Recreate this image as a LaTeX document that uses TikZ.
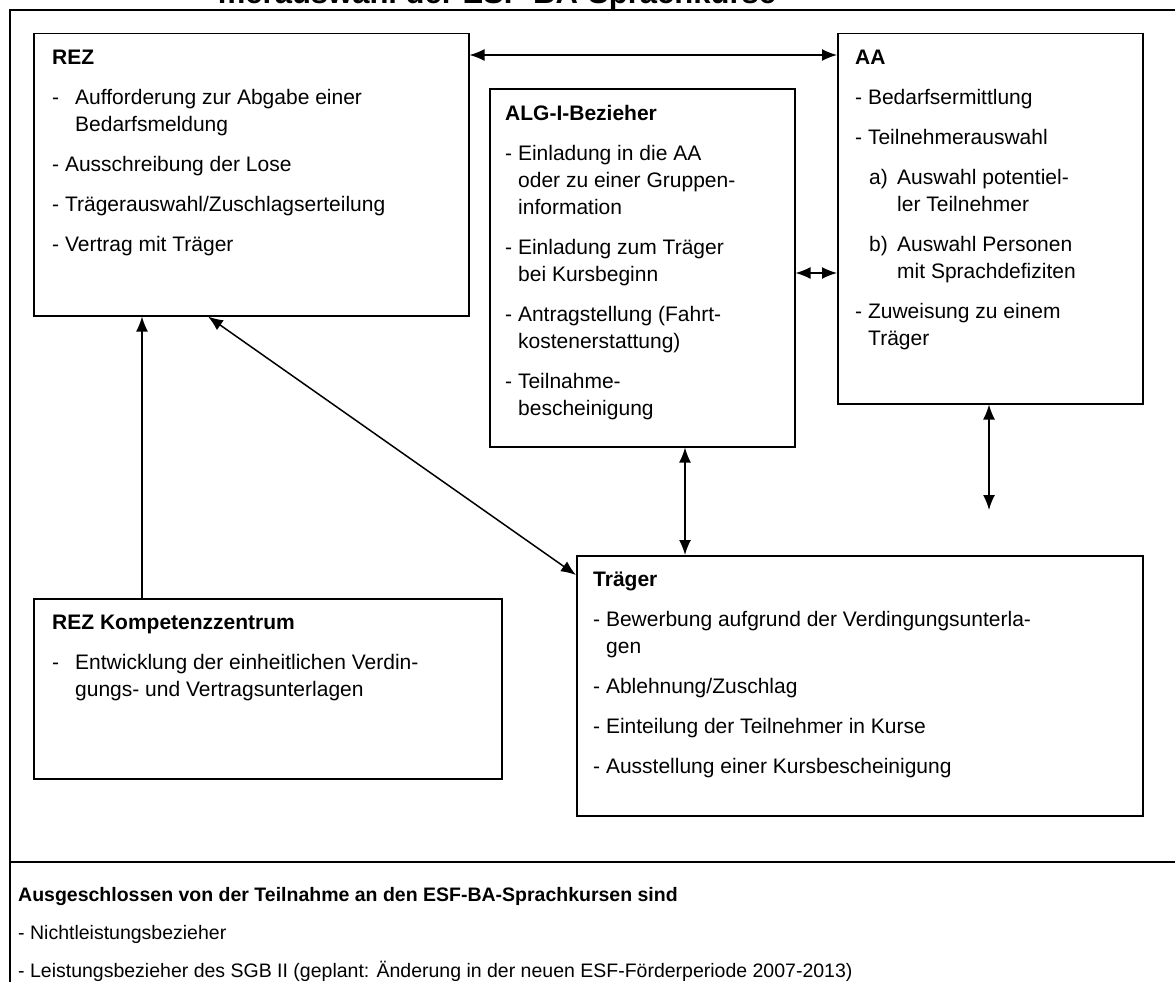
\documentclass[tikz,border=0pt]{standalone}
\usepackage{fontspec}
\setmainfont{Liberation Sans}
\usetikzlibrary{arrows.meta}

\begin{document}
\begin{tikzpicture}[x=1pt,y=-1pt]
	\tikzstyle{Kasten} = [draw, line width=1.5pt, rectangle, inner sep=0pt, anchor=north west]
	\tikzstyle{Inhalt} = [anchor=north west, align=left, inner sep=0pt, font=\fontsize{21}{27}\selectfont]
	\tikzstyle{Pfeil} = [line width=1.5pt, {Latex[length=15pt,width=12pt]}-{Latex[length=15pt,width=12pt]}]
	\useasboundingbox (0,0) rectangle (1175,982);
	\clip (0,0) rectangle (1175,982);
	% Rahmen und Titel
	\draw [line width=1.5pt] (10,1000) -- (10,10) -- (1200,10);
	\draw [line width=1.5pt] (10,862) -- (1200,862);
	\node (titel) at (497,4) [anchor=base, font=\fontsize{31}{35}\selectfont\bfseries] {merauswahl der ESF-BA-Sprachkurse};
	% Kaesten
	\node (rez) at (33,33) [Kasten, minimum width=435pt, minimum height=282pt] {};
	\node (alg) at (489,88) [Kasten, minimum width=305pt, minimum height=358pt] {};
	\node (aa) at (837,33) [Kasten, minimum width=305pt, minimum height=370pt] {};
	\node (traeger) at (576,555) [Kasten, minimum width=566pt, minimum height=260pt] {};
	\node (kompetenz) at (33,598) [Kasten, minimum width=468pt, minimum height=180pt] {};
	% Texte
	\node (rezText) at ([shift={(19,17)}]rez.north west) [Inhalt] {\textbf{REZ}\\[13pt]
		\makebox[23pt][l]{-}Aufforderung zur Abgabe einer\\
		\hspace*{23pt}Bedarfsmeldung\\[13pt]
		- Ausschreibung der Lose\\[13pt]
		- Trägerauswahl/Zuschlagserteilung\\[13pt]
		- Vertrag mit Träger};
	\node (algText) at ([shift={(16,17)}]alg.north west) [Inhalt] {\textbf{ALG-I-Bezieher}\\[13pt]
		- Einladung in die AA\\
		\hspace*{13pt}oder zu einer Gruppen-\\
		\hspace*{13pt}information\\[13pt]
		- Einladung zum Träger\\
		\hspace*{13pt}bei Kursbeginn\\[13pt]
		- Antragstellung (Fahrt-\\
		\hspace*{13pt}kostenerstattung)\\[13pt]
		- Teilnahme-\\
		\hspace*{13pt}bescheinigung};
	\node (aaText) at ([shift={(18,17)}]aa.north west) [Inhalt] {\textbf{AA}\\[13pt]
		- Bedarfsermittlung\\[13pt]
		- Teilnehmerauswahl\\[13pt]
		\hspace*{14pt}\makebox[28pt][l]{a)}Auswahl potentiel-\\
		\hspace*{42pt}ler Teilnehmer\\[13pt]
		\hspace*{14pt}\makebox[28pt][l]{b)}Auswahl Personen\\
		\hspace*{42pt}mit Sprachdefiziten\\[13pt]
		- Zuweisung zu einem\\
		\hspace*{13pt}Träger};
	\node (traegerText) at ([shift={(17,17)}]traeger.north west) [Inhalt] {\textbf{Träger}\\[13pt]
		- Bewerbung aufgrund der Verdingungsunterla-\\
		\hspace*{13pt}gen\\[13pt]
		- Ablehnung/Zuschlag\\[13pt]
		- Einteilung der Teilnehmer in Kurse\\[13pt]
		- Ausstellung einer Kursbescheinigung};
	\node (kompetenzText) at ([shift={(19,17)}]kompetenz.north west) [Inhalt] {\textbf{REZ Kompetenzzentrum}\\[13pt]
		\makebox[23pt][l]{-}Entwicklung der einheitlichen Verdin-\\
		\hspace*{23pt}gungs- und Vertragsunterlagen};
	\node (ausschluss) at (18,887) [Inhalt, font=\fontsize{19.5}{25}\selectfont] {\textbf{Ausgeschlossen von der Teilnahme an den ESF-BA-Sprachkursen sind}\\[13pt]
		- Nichtleistungsbezieher\\[13pt]
		- Leistungsbezieher des SGB II (geplant: Änderung in der neuen ESF-Förderperiode 2007-2013)};
	% Pfeile
	\draw [Pfeil] ([yshift=-22pt]rez.north east) -- ([yshift=-22pt]aa.north west);
	\draw [Pfeil] ([yshift=-185pt]alg.north east) -- ([yshift=-240pt]aa.north west);
	\draw [Pfeil] ([xshift=196pt]alg.south west) -- ([xshift=109pt]traeger.north west);
	\coordinate (aaEnde) at (989,510);
	\draw [Pfeil] ([xshift=152pt]aa.south west) -- (aaEnde);
	\draw [Pfeil] ([xshift=175pt]rez.south west) -- ([yshift=-20pt]traeger.north west);
	\draw [line width=1.5pt, -{Latex[length=15pt,width=12pt]}] ([xshift=109pt]kompetenz.north west) -- ([xshift=109pt]rez.south west);
\end{tikzpicture}
\end{document}
